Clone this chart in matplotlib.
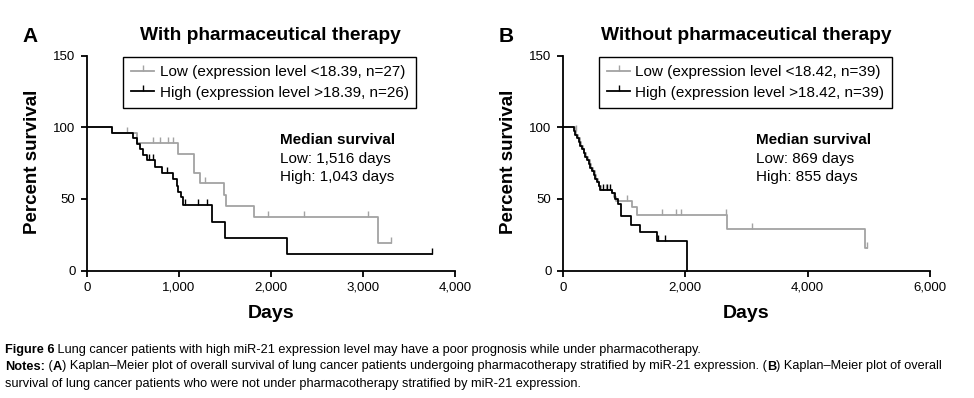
import numpy as np
import matplotlib
matplotlib.use('Agg')
import matplotlib.pyplot as plt
from matplotlib.lines import Line2D
from matplotlib.text import Annotation

plt.rcParams['font.family'] = ['Liberation Sans', 'DejaVu Sans']

# ---------------- data ----------------
# panel A: with pharmaceutical therapy
a_low_t = [272, 545, 995, 1168, 1230, 1490, 1516, 1820, 3164]
a_low_s = [96.3, 88.9, 81.5, 67.9, 61.1, 53.0, 45.3, 37.7, 18.9]
a_low_cens = [434, 724, 796, 886, 940, 1284, 1965, 2365, 3055, 3302]

a_high_t = [272, 499, 550, 579, 615, 651, 740, 814, 940, 977, 995, 1020, 1043,
            1357, 1502, 2178]
a_high_s = [96.2, 92.3, 88.5, 84.6, 80.8, 76.9, 72.6, 68.2, 64.0, 59.3, 55.0, 51.0,
            45.6, 34.1, 23.0, 11.5]
a_high_cens = [680, 723, 868, 1067, 1212, 1303, 3750]

# panel B: without pharmaceutical therapy
b_low_t = [195, 225, 250, 275, 300, 330, 355, 385, 410, 440, 465, 490, 520, 545,
           575, 600, 630, 800, 840, 869, 1127, 1219, 2680, 4940]
b_low_s = [97.4, 94.9, 92.3, 89.7, 87.2, 84.6, 82.1, 79.5, 76.9, 74.4, 71.8, 69.2,
           66.7, 64.1, 61.5, 59.0, 56.4, 53.8, 51.3, 48.6, 44.2, 39.0, 29.2, 15.5]
b_low_cens = [217, 700, 1045, 1617, 1851, 1928, 2670, 3088, 4970]

b_high_t = [180, 205, 240, 265, 290, 320, 345, 370, 395, 425, 450, 475, 505, 530,
            560, 590, 610, 810, 855, 900, 947, 1118, 1263, 1536, 2026]
b_high_s = [97.4, 94.9, 92.3, 89.7, 87.2, 84.6, 82.1, 79.5, 76.9, 74.4, 71.8, 69.2,
            66.7, 64.1, 61.5, 59.0, 56.4, 54.0, 49.6, 46.5, 37.9, 31.8, 26.7, 20.6, 0.0]
b_high_cens = [664, 719, 773, 1560, 1670]

titles = ['With pharmaceutical therapy', 'Without pharmaceutical therapy']
panel_tags = ['A', 'B']
low_labels = ['Low (expression level <18.39, n=27)', 'Low (expression level <18.42, n=39)']
high_labels = ['High (expression level >18.39, n=26)', 'High (expression level >18.42, n=39)']
median_low = ['Low: 1,516 days', 'Low: 869 days']
median_high = ['High: 1,043 days', 'High: 855 days']
x_max = [4000, 6000]
x_ticks = [[0, 1000, 2000, 3000, 4000], [0, 2000, 4000, 6000]]
median_x = [2099, 3158]

# ---------------- style ----------------
low_color = '#a3a3a3'
high_color = '#000000'
line_width = 1.3
spine_width = 1.3
tick_labelsize = 9.5

W, H = 974, 398
fig = plt.figure(figsize=(W / 100, H / 100), dpi=100)

# axes boxes in pixels: left, right of x range; y of 0 and 150
ax_px = [(86.7, 455.0), (562.7, 930.0)]
y0_px, y150_px = 270.5, 55.7


def km_xy(t, s, cens):
    end = max(t[-1], max(cens) if cens else t[-1])
    x = np.r_[0, t, end]
    y = np.r_[100, s, s[-1]]
    return x, y


def surv_at(t, s, times):
    idx = np.searchsorted(np.asarray(t), np.asarray(times), side='right')
    vals = np.r_[100, s]
    return vals[idx]


curves = [
    ((a_low_t, a_low_s, a_low_cens), (a_high_t, a_high_s, a_high_cens)),
    ((b_low_t, b_low_s, b_low_cens), (b_high_t, b_high_s, b_high_cens)),
]

for i in range(2):
    l, r = ax_px[i]
    ax = fig.add_axes([l / W, 1 - y0_px / H, (r - l) / W, (y0_px - y150_px) / H])
    for (t, s, cens), col, z in zip(curves[i], [low_color, high_color], [2, 3]):
        x, y = km_xy(t, s, cens)
        ax.step(x, y, where='post', color=col, lw=line_width, zorder=z, clip_on=False)
        ax.plot(cens, surv_at(t, s, cens), linestyle='none', marker=2,
                markersize=4, markeredgewidth=1.0, color=col, zorder=z, clip_on=False)

    ax.set_xlim(0, x_max[i])
    ax.set_ylim(0, 150)
    ax.set_xticks(x_ticks[i])
    ax.set_xticklabels([f'{v:,}' for v in x_ticks[i]])
    ax.set_yticks([0, 50, 100, 150])
    for side in ['top', 'right']:
        ax.spines[side].set_visible(False)
    for side in ['left', 'bottom']:
        ax.spines[side].set_linewidth(spine_width)
    ax.tick_params(direction='out', length=4, width=spine_width,
                   labelsize=tick_labelsize, pad=4, colors='black')
    ax.patch.set_visible(False)

    handles = [Line2D([], [], color=low_color, lw=line_width, marker=2, markersize=4,
                      markeredgewidth=1.0),
               Line2D([], [], color=high_color, lw=line_width, marker=2, markersize=4,
                      markeredgewidth=1.0)]
    leg = ax.legend(handles, [low_labels[i], high_labels[i]], loc='upper left',
                    bbox_to_anchor=(0.0995, 0.993), borderaxespad=0, fontsize=11.0,
                    fancybox=False, framealpha=1, edgecolor='black',
                    handlelength=1.5, handletextpad=0.35, borderpad=0.52,
                    labelspacing=0.42, numpoints=1)
    leg.get_frame().set_linewidth(1.0)

    ax.text(median_x[i], 90.8, 'Median survival', fontsize=11, fontweight='bold',
            va='center', ha='left')
    ax.text(median_x[i], 78.0, median_low[i], fontsize=11, va='center', ha='left')
    ax.text(median_x[i], 65.5, median_high[i], fontsize=11, va='center', ha='left')

    cx = (l + r) / 2
    fig.text(cx / W, 1 - 36 / H, titles[i], fontsize=13.8, fontweight='bold',
             ha='center', va='center')
    fig.text(cx / W, 1 - 313 / H, 'Days', fontsize=14, fontweight='bold',
             ha='center', va='center')
    fig.text((l - 54.5) / W, 1 - 162 / H, 'Percent survival', fontsize=13.5,
             fontweight='bold', rotation=90, ha='center', va='center')
    fig.text((l - 57) / W, 1 - 36 / H, panel_tags[i], fontsize=15,
             fontweight='bold', ha='center', va='center')

# ---------------- caption ----------------
cap_font = ['Liberation Sans Narrow', 'Liberation Sans', 'DejaVu Sans']
cap_size = 9.2
caption = [
    (353.5, [('Figure 6', True),
             (' Lung cancer patients with high miR-21 expression level may have a poor '
              'prognosis while under pharmacotherapy.', False)]),
    (369.5, [('Notes:', True), (' (', False), ('A', True),
             (') Kaplan\u2013Meier plot of overall survival of lung cancer patients undergoing '
              'pharmacotherapy stratified by miR-21 expression. (', False),
             ('B', True), (') Kaplan\u2013Meier plot of overall', False)]),
    (386.5, [('survival of lung cancer patients who were not under pharmacotherapy '
              'stratified by miR-21 expression.', False)]),
]
for y, pieces in caption:
    s, b = pieces[0]
    prev = fig.text(5 / W, 1 - y / H, s, family=cap_font, fontsize=cap_size,
                    fontweight='bold' if b else 'normal', va='baseline', ha='left')
    for s, b in pieces[1:]:
        ann = Annotation(s, xy=(1, 0), xycoords=prev, va='bottom', ha='left',
                         family=cap_font, fontsize=cap_size,
                         fontweight='bold' if b else 'normal')
        fig.add_artist(ann)
        prev = ann

fig.savefig('out.png', dpi=100)
